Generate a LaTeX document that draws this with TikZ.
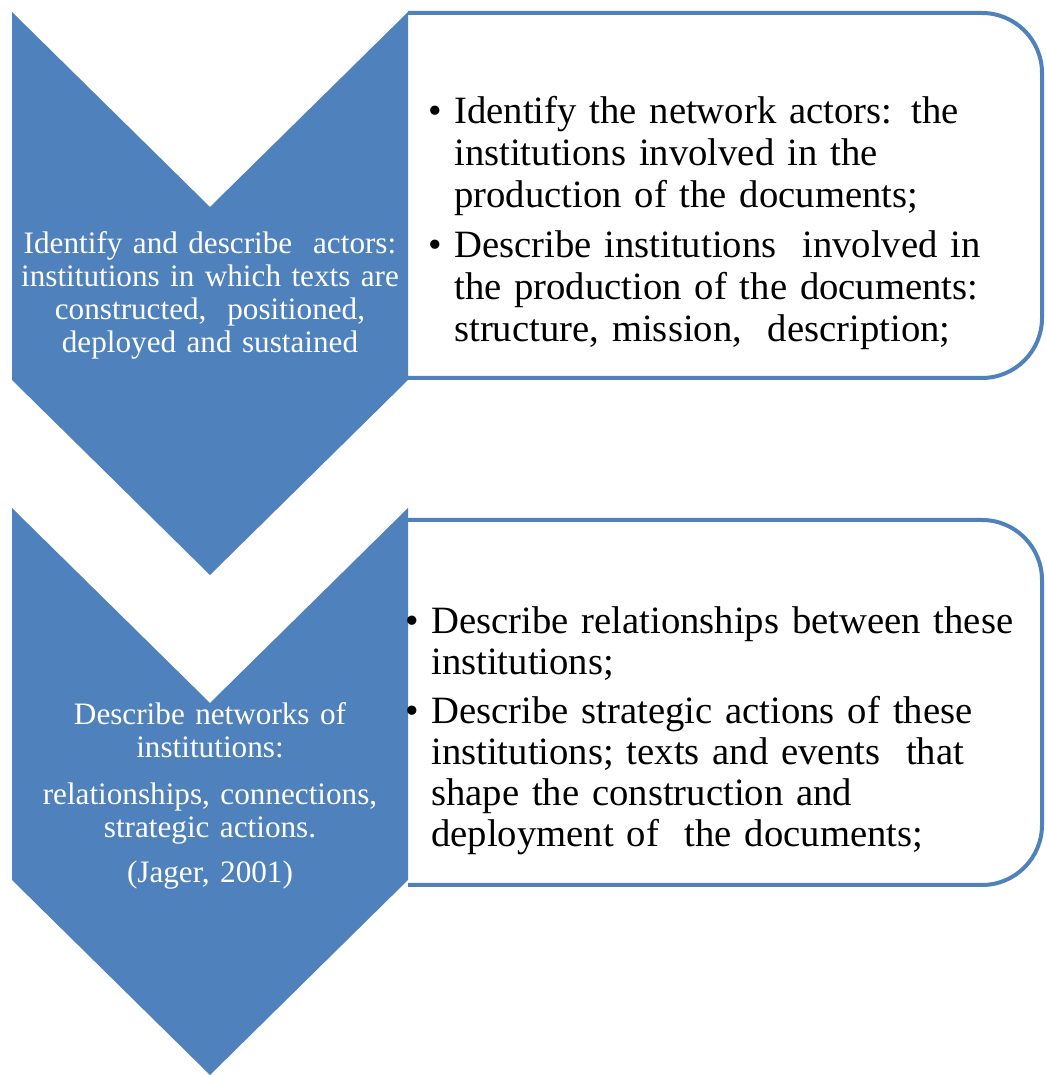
\documentclass[tikz,border=0pt]{standalone}
\usepackage{fontspec}
\setmainfont{Liberation Serif}
\usepackage{tikz}
\definecolor{chevblue}{HTML}{4F81BD}
\tikzstyle{chevron} = [fill=chevblue, draw=none]
\tikzstyle{stepbox} = [draw=chevblue, line width=3pt, fill=white]
\tikzstyle{steptext} = [text=white, align=center, text width=292pt, inner sep=0pt, anchor=north, font=\fontsize{23.4}{24.75}\selectfont]
\tikzstyle{itemtext} = [align=left, text width=480pt, inner sep=0pt, anchor=north west]
\newcommand{\bitem}[1]{\hangindent=19pt\hangafter=1\makebox[19pt][l]{\textbullet}#1\par}

\begin{document}
\begin{tikzpicture}[x=0.75pt, y=0.75pt]
        \useasboundingbox (0,0) rectangle (1046,1075);
        % boxes on the right
        \draw[stepbox] (408,1062) -- (982,1062) arc[start angle=90, end angle=0, radius=60] -- (1042,757) arc[start angle=0, end angle=-90, radius=60] -- (408,697);
        \draw[stepbox] (408,555) -- (982,555) arc[start angle=90, end angle=0, radius=60] -- (1042,250) arc[start angle=0, end angle=-90, radius=60] -- (408,190);
        % chevrons
        \fill[chevron] (12,1063) -- (210,868) -- (408,1063) -- (408,695) -- (210,500) -- (12,695) -- cycle;
        \fill[chevron] (12,567) -- (210,372) -- (408,567) -- (408,195) -- (210,0) -- (12,195) -- cycle;

        \node (Actors) [steptext] at (210,845) {\strut Identify and describe\ \ actors:\\ institutions in which texts are\\ constructed,\ \ positioned,\\ deployed and sustained};
        \node (Networks) [steptext] at (210,374) {\strut Describe networks of\\ institutions:\\[10.5pt] relationships, connections,\\ strategic actions.\\[9pt] (Jager, 2001)};

        \node (ActorItems) [itemtext, font=\fontsize{29}{31.5}\selectfont] at (428.7,981.4) {\strut
        \bitem{Identify the network actors: the\newline institutions involved in the\newline production of the documents;}
        \vspace{6pt}
        \bitem{\strut Describe institutions\ \ involved in\newline the production of the documents:\newline structure, mission,\ \ description;}};
        \node (NetworkItems) [itemtext, font=\fontsize{29}{30.75}\selectfont] at (405.7,470.7) {\strut
        \bitem{Describe relationships between these\newline institutions;}
        \vspace{6pt}
        \bitem{\strut Describe strategic actions of these\newline institutions; texts and events\ \ that\newline shape the construction and\newline deployment of\ \ the documents;}};
\end{tikzpicture}
\end{document}
